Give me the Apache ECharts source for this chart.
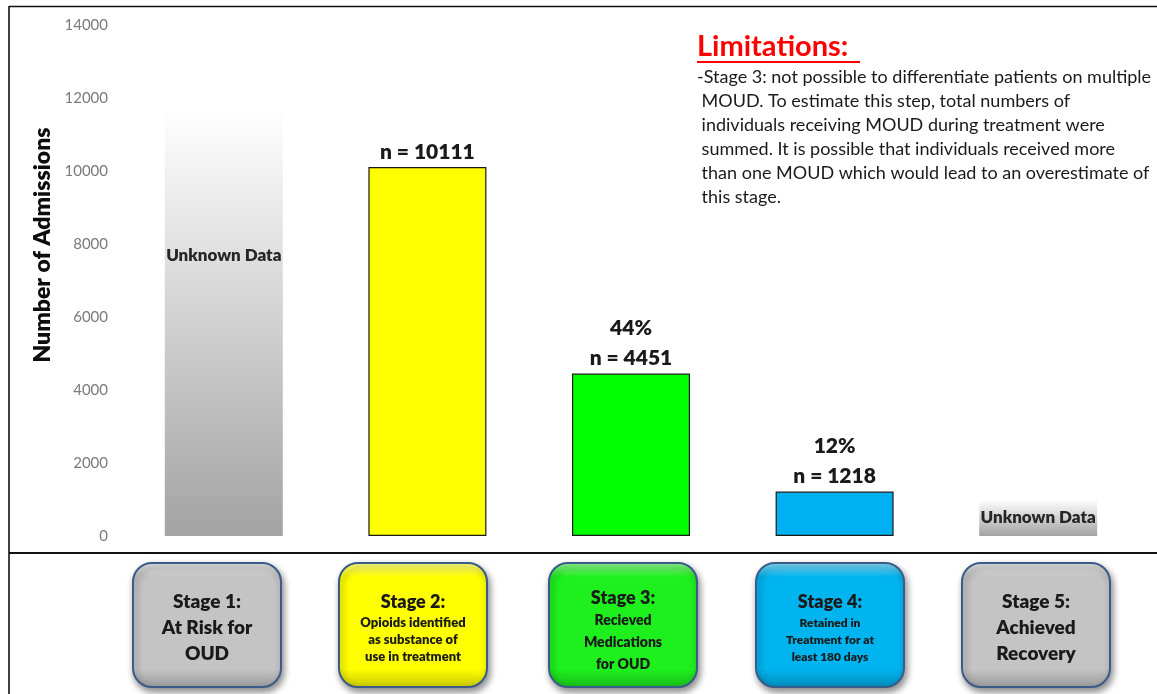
<!DOCTYPE html>
<html>
<head>
<meta charset="utf-8">
<script src="https://cdn.jsdelivr.net/npm/echarts@6/dist/echarts.min.js"></script>
<style>
html,body{margin:0;padding:0;background:#fff;}
#chart{width:1157px;height:694px;}
</style>
</head>
<body>
<div id="chart"></div>
<script>
// ---- data ----
const categories = ['Stage 1', 'Stage 2', 'Stage 3', 'Stage 4', 'Stage 5'];
const admissions = [11750, 10111, 4451, 1218, 1000]; // stages 1 and 5: placeholder bars for unknown data
const dataKnown = [false, true, true, true, false];
const percentLabels = ['', '', '44%', '12%', ''];
const unknownText = 'Unknown Data';
const yTicks = [0, 2000, 4000, 6000, 8000, 10000, 12000, 14000];
const stageTitles = ['Stage 1:', 'Stage 2:', 'Stage 3:', 'Stage 4:', 'Stage 5:'];
const stageDescriptions = [
  ['At Risk for', 'OUD'],
  ['Opioids identified', 'as substance of', 'use in treatment'],
  ['Recieved', 'Medications', 'for OUD'],
  ['Retained in', 'Treatment for at', 'least 180 days'],
  ['Achieved', 'Recovery']
];
const limitationsTitle = 'Limitations:';
const limitationsLines = [
  '-Stage 3: not possible to differentiate patients on multiple',
  ' MOUD. To estimate this step, total numbers of',
  ' individuals receiving MOUD during treatment were',
  ' summed. It is possible that individuals received more',
  ' than one MOUD which would lead to an overestimate of',
  ' this stage.'
];

// ---- styles ----
const FONT = 'Lato, "Open Sans", sans-serif';
const HEAVY = 800;
const grayGrad = new echarts.graphic.LinearGradient(0, 0, 0, 1, [
  {offset: 0, color: '#ffffff'}, {offset: 1, color: '#a3a3a3'}
]);
const barColors = [grayGrad, '#ffff00', '#00ff00', '#00b0f0', grayGrad];
const boxColors = ['#c4c4c4', '#ffff00', '#1ef01e', '#00b4ef', '#c4c4c4'];
const boxCenters = [207, 413, 623, 830, 1036];
const boxDescStyles = [
  {fontSize: 19, lineHeight: 26},
  {fontSize: 13, lineHeight: 17},
  {fontSize: 14, lineHeight: 22},
  {fontSize: 12, lineHeight: 17},
  {fontSize: 19, lineHeight: 26}
];
const boxTitleStyles = [
  {fontSize: 19, lineHeight: 26},
  {fontSize: 18, lineHeight: 24},
  {fontSize: 18, lineHeight: 22},
  {fontSize: 18, lineHeight: 24},
  {fontSize: 19, lineHeight: 26}
];

function lighten(hex, f) {
  const n = parseInt(hex.slice(1), 16);
  let r = n >> 16, g = (n >> 8) & 255, b = n & 255;
  r = Math.round(r + (255 - r) * f); g = Math.round(g + (255 - g) * f); b = Math.round(b + (255 - b) * f);
  return 'rgb(' + r + ',' + g + ',' + b + ')';
}
function darken(hex, f) {
  const n = parseInt(hex.slice(1), 16);
  let r = n >> 16, g = (n >> 8) & 255, b = n & 255;
  return 'rgb(' + Math.round(r * (1 - f)) + ',' + Math.round(g * (1 - f)) + ',' + Math.round(b * (1 - f)) + ')';
}

const seriesData = admissions.map((v, i) => {
  const item = {value: v, itemStyle: {color: barColors[i]}};
  if (dataKnown[i]) {
    item.itemStyle.borderColor = '#1a1a1a';
    item.itemStyle.borderWidth = 1.2;
    const txt = (percentLabels[i] ? '{p|' + percentLabels[i] + '}\n' : '') + '{n|n = ' + v + '}';
    item.label = {show: true, position: 'top', distance: 0, formatter: txt,
      rich: {
        p: {fontFamily: FONT, fontWeight: HEAVY, fontSize: 21, color: '#1a1a1a', lineHeight: 30},
        n: {fontFamily: FONT, fontWeight: HEAVY, fontSize: 21, color: '#1a1a1a', lineHeight: 30}
      }};
  } else {
    item.label = {show: true, formatter: unknownText, fontFamily: FONT, fontWeight: HEAVY,
      fontSize: 17, color: '#262626',
      position: i === 0 ? ['50%', '34.7%'] : 'inside', align: 'center', verticalAlign: 'middle'};
  }
  return item;
});

// ---- graphics (frame, limitations, stage boxes) ----
const graphics = [
  {type: 'line', shape: {x1: 9, y1: 6.5, x2: 1157, y2: 6.5}, style: {stroke: '#111', lineWidth: 1.6}, silent: true},
  {type: 'line', shape: {x1: 9, y1: 6, x2: 9, y2: 694}, style: {stroke: '#111', lineWidth: 1.6}, silent: true},
  {type: 'line', shape: {x1: 9, y1: 553, x2: 1157, y2: 553}, style: {stroke: '#111', lineWidth: 1.8}, silent: true},
  {type: 'text', x: 43, y: 245, rotation: Math.PI / 2,
    style: {text: 'Number of Admissions', font: HEAVY + ' 23px ' + FONT, fill: '#0d0d0d', align: 'center', verticalAlign: 'middle'}},
  {type: 'text', x: 697, y: 47,
    style: {text: limitationsTitle, font: 'bold 29px ' + FONT, fill: '#ff0000', align: 'left', verticalAlign: 'middle'}},
  {type: 'line', shape: {x1: 697, y1: 62, x2: 860, y2: 62}, style: {stroke: '#ff0000', lineWidth: 2}},
  {type: 'text', x: 697, y: 65,
    style: {text: limitationsLines.join('\n'), font: '18px ' + FONT, fill: '#1a1a1a', lineHeight: 24, align: 'left', verticalAlign: 'top'}}
];

categories.forEach((c, i) => {
  const cx = boxCenters[i], w = 148, h = 124, top = 563;
  const base = boxColors[i];
  graphics.push({type: 'rect', shape: {x: cx - w / 2, y: top, width: w, height: h, r: 19},
    style: {
      fill: new echarts.graphic.LinearGradient(0, 0, 0, 1, [
        {offset: 0, color: lighten(base, 0.55)}, {offset: 0.12, color: base},
        {offset: 0.85, color: base}, {offset: 1, color: darken(base, 0.22)}
      ]),
      stroke: '#3b5b88', lineWidth: 2,
      shadowBlur: 7, shadowOffsetX: 2, shadowOffsetY: 4, shadowColor: 'rgba(0,0,0,0.45)'
    }});
  const txt = '{t|' + stageTitles[i] + '}\n' + stageDescriptions[i].map(s => '{d|' + s + '}').join('\n');
  graphics.push({type: 'text', x: cx, y: top + h / 2 + (i === 2 ? 6 : 3),
    style: {text: txt, align: 'center', verticalAlign: 'middle',
      rich: {
        t: Object.assign({fontFamily: FONT, fontWeight: HEAVY, fill: '#1a1a1a', align: 'center'}, boxTitleStyles[i]),
        d: Object.assign({fontFamily: FONT, fontWeight: HEAVY, fill: '#1a1a1a', align: 'center'}, boxDescStyles[i])
      }}});
});

const chart = echarts.init(document.getElementById('chart'), null, {renderer: 'canvas'});
chart.setOption({
  animation: false,
  backgroundColor: '#ffffff',
  grid: {left: 122, right: 17, top: 25, bottom: 158},
  xAxis: {type: 'category', data: categories, axisLine: {show: false}, axisTick: {show: false}, axisLabel: {show: false}},
  yAxis: {type: 'value', min: yTicks[0], max: yTicks[yTicks.length - 1], interval: yTicks[1] - yTicks[0],
    splitLine: {show: false}, axisLine: {show: false}, axisTick: {show: false},
    axisLabel: {margin: 14, fontFamily: FONT, fontSize: 15, color: '#7a7a7a', formatter: v => String(v)}},
  series: [{type: 'bar', data: seriesData, barWidth: 118}],
  graphic: graphics
});
</script>
</body>
</html>
